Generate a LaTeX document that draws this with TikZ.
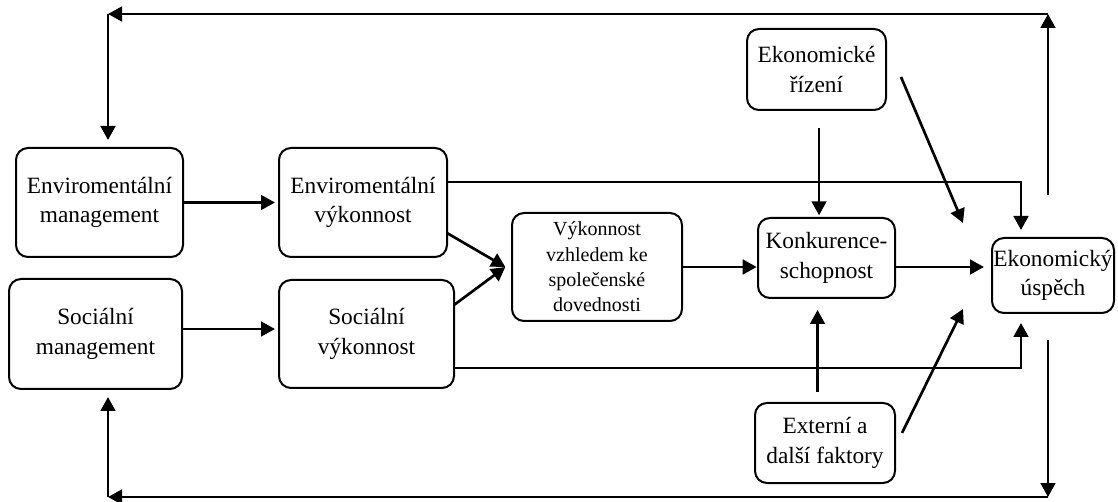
\documentclass[tikz,border=0pt]{standalone}
\usepackage{fontspec}
\setmainfont{Liberation Serif}
\usetikzlibrary{arrows.meta,calc}
\begin{document}
\begin{tikzpicture}[x=0.75pt,y=-0.75pt,
  box/.style={draw, line width=1.5pt, rounded corners=9pt, align=center,
    inner sep=0pt, outer sep=0pt, font=\fontsize{17.5}{22}\selectfont},
  arr/.style={line width=2pt, -{Triangle[length=10.5pt,width=11pt]}}]
\useasboundingbox (0,0) rectangle (1118,502);

% boxes
\node[box, minimum width=125.25pt, minimum height=81.75pt] (envm) at (99.5,202.5) {Enviromentální\\management};
\node[box, minimum width=126pt, minimum height=81.75pt] (envp) at (363,202.5) {Enviromentální\\výkonnost};
\node[box, minimum width=129.75pt, minimum height=82.5pt] (socm) at (95.5,334) {Sociální\\management};
\node[box, minimum width=131.25pt, minimum height=81pt] (socp) at (366.5,334) {Sociální\\výkonnost};
\node[box, minimum width=127.5pt, minimum height=81pt, font=\fontsize{15}{19}\selectfont] (vyk) at (597,267) {Výkonnost\\vzhledem ke\\společenské\\dovednosti};
\node[box, minimum width=102.75pt, minimum height=60pt] (konk) at (826.5,258) {Konkurence-\\schopnost};
\node[box, minimum width=104.25pt, minimum height=60.75pt] (riz) at (816.5,69.5) {Ekonomické\\řízení};
\node[box, minimum width=105pt, minimum height=60pt] (ext) at (825,443) {Externí a\\další faktory};
\node[box, minimum width=91.5pt, minimum height=56.25pt] (eko) at (1053,275.5) {Ekonomický\\úspěch};

% corners of the feedback loop
\coordinate (tr) at (1048,14);
\coordinate (tl) at (108,14);
\coordinate (br) at (1048,497);
\coordinate (bl) at (108,497);
\coordinate (t0) at (1048,195);
\coordinate (b0) at (1048,340);

% management -> performance
\draw[arr, shorten >=3pt] (envm) -- (envp);
\draw[arr, shorten >=3pt] ([yshift=3.75pt]socm.east) -- ([yshift=3.75pt]socm.east -| socp.west);

% performance -> social skills
\draw[arr] ([yshift=-22.9pt]envp.east) -- ([xshift=-5pt]vyk.west);
\draw[arr] ([yshift=21.75pt]socp.east) -- ([xshift=-5pt]vyk.west);

% performance -> economic success
\draw[arr] ([yshift=15.4pt]envp.east) -| ([xshift=-24pt,yshift=6pt]eko.north);
\draw[arr] ([yshift=-25.5pt]socp.east) -| ([xshift=-24pt,yshift=-7.5pt]eko.south);

% main chain
\draw[arr, shorten >=1pt] (vyk.east) -- (vyk.east -| konk.west);
\draw[arr, shorten >=6pt] (konk.east |- vyk.east) -- (vyk.east -| eko.west);

% economic management and external factors
\coordinate (r1) at ([xshift=1.9pt,yshift=-13.5pt]riz.south);
\coordinate (k1) at ([yshift=2pt]konk.north);
\draw[arr] (r1) -- (r1 |- k1);
\coordinate (e1) at ([xshift=-5.6pt,yshift=8.25pt]ext.north);
\coordinate (k2) at ([yshift=-9pt]konk.south);
\draw[arr] (e1) -- (e1 |- k2);
\draw[arr] ([xshift=11.25pt,yshift=-5.6pt]riz.east) -- ([xshift=-21.75pt,yshift=11.25pt]eko.north west);
\draw[arr] ([xshift=5.25pt,yshift=7.5pt]ext.east) -- ([xshift=-21.75pt,yshift=3pt]eko.south west);

% feedback loops
\draw[arr] (t0) -- (tr);
\draw[arr] (tr) -- (tl);
\draw[arr] (tl) -- ([yshift=6pt]envm.north -| tl);
\draw[arr] (b0) -- (br);
\draw[arr] (br) -- (bl);
\draw[arr] (bl) -- ([yshift=-6pt]socm.south -| bl);
\end{tikzpicture}
\end{document}
